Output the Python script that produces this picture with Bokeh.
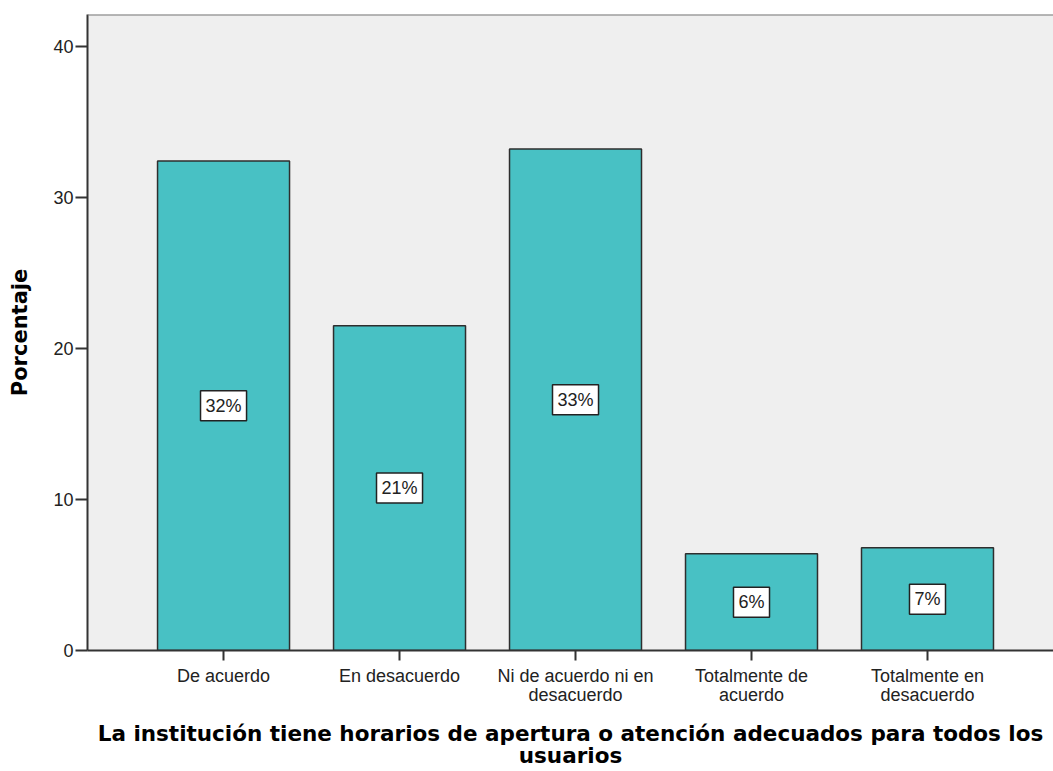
import pandas as pd
from bokeh.plotting import figure
from bokeh.models import ColumnDataSource, Label, LabelSet, FixedTicker, Range1d, Span
from bokeh.core.properties import value
from bokeh.embed import file_html
from bokeh.resources import INLINE

categories = ["De acuerdo", "En desacuerdo", "Ni de acuerdo ni en\ndesacuerdo",
              "Totalmente de\nacuerdo", "Totalmente en\ndesacuerdo"]
values = [32.4, 21.5, 33.2, 6.4, 6.8]
bar_labels = ["32%", "21%", "33%", "6%", "7%"]
y_ticks = [0, 10, 20, 30, 40]

df = pd.DataFrame({"cat": categories, "value": values, "label": bar_labels})
df["x"] = list(range(len(categories)))
df["mid"] = df["value"] / 2
src = ColumnDataSource(df)

p = figure(width=1053, height=771, output_backend="svg", toolbar_location=None,
           x_range=Range1d(-0.773, 4.716), y_range=Range1d(0, 42.1),
           min_border_left=87, min_border_top=14, min_border_right=0, min_border_bottom=120)
p.background_fill_color = "#EFEFEF"
p.border_fill_color = "white"
p.outline_line_color = None
p.xgrid.visible = False
p.ygrid.visible = False

p.vbar(x="x", top="value", bottom=0, width=0.75, source=src,
       fill_color="#48C1C4", line_color="#2E2E2E", line_width=1.5)

if "padding" in Label.properties():
    for _, r in df.iterrows():
        p.add_layout(Label(x=r["x"], y=r["mid"], text=r["label"], text_align="center",
                           text_baseline="middle", text_font_size="18px",
                           text_font="Liberation Sans", text_color="#222222",
                           background_fill_color="white", border_line_color="#222222",
                           border_line_width=1.5, padding=5))
else:
    p.add_layout(LabelSet(x="x", y="mid", text="label", source=src, text_align="center",
                          text_baseline="middle", text_font_size="18px",
                          text_font=value("Liberation Sans"), text_color="#222222",
                          background_fill_color="white", border_line_color="#222222",
                          border_line_width=1.5))

p.add_layout(Span(location=42.1, dimension="width", line_color="#777777", line_width=2))

# y axis
p.yaxis.ticker = FixedTicker(ticks=y_ticks)
p.yaxis.major_tick_out = 12
p.yaxis.major_tick_in = 0
p.yaxis.minor_tick_line_color = None
p.yaxis.axis_line_color = "#333333"
p.yaxis.axis_line_width = 2
p.yaxis.major_tick_line_color = "#333333"
p.yaxis.major_tick_line_width = 2
p.yaxis.major_label_text_font = "Liberation Sans"
p.yaxis.major_label_text_font_size = "18px"
p.yaxis.major_label_text_color = "#222222"
p.yaxis.major_label_standoff = 2
p.yaxis.axis_label = "Porcentaje"
p.yaxis.axis_label_text_font = "DejaVu Sans"
p.yaxis.axis_label_text_font_style = "bold"
p.yaxis.axis_label_text_font_size = "21px"
p.yaxis.axis_label_text_color = "black"
p.yaxis.axis_label_standoff = 18

# x axis
p.xaxis.ticker = FixedTicker(ticks=list(df["x"]))
p.xaxis.major_label_overrides = {int(i): c for i, c in zip(df["x"], df["cat"])}
p.xaxis.major_tick_out = 10
p.xaxis.major_tick_in = 0
p.xaxis.minor_tick_line_color = None
p.xaxis.axis_line_color = "#333333"
p.xaxis.axis_line_width = 2
p.xaxis.major_tick_line_color = "#333333"
p.xaxis.major_tick_line_width = 2
p.xaxis.major_label_text_font = "Liberation Sans"
p.xaxis.major_label_text_font_size = "18px"
p.xaxis.major_label_text_line_height = 0.95
p.xaxis.major_label_text_color = "#222222"
p.xaxis.major_label_standoff = 5
p.xaxis.axis_label = "La institución tiene horarios de apertura o atención adecuados para todos los\nusuarios"
p.xaxis.axis_label_text_font = "DejaVu Sans"
p.xaxis.axis_label_text_font_style = "bold"
p.xaxis.axis_label_text_font_size = "21.5px"
p.xaxis.axis_label_text_line_height = 0.9
p.xaxis.axis_label_text_color = "black"
p.xaxis.axis_label_standoff = 13

open("out.html", "w").write(file_html(p, INLINE))
